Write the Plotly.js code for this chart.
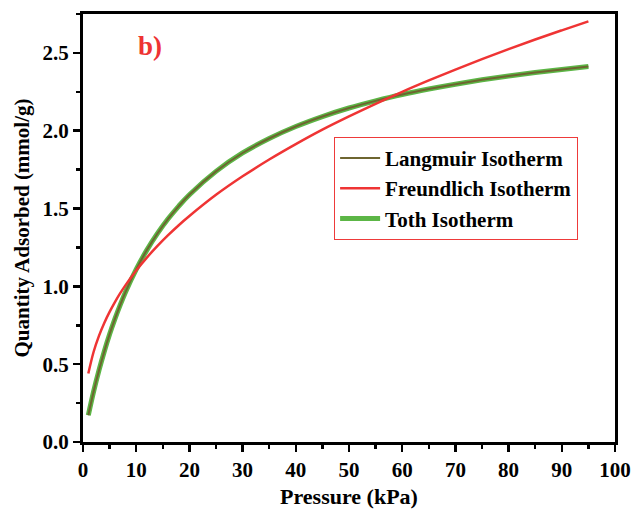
<!DOCTYPE html>
<html>
<head>
<meta charset="utf-8">
<script src="https://cdn.plot.ly/plotly-3.0.1.min.js"></script>
<style>html,body{margin:0;padding:0;background:#fff;}#chart{width:634px;height:510px;}</style>
</head>
<body>
<div id="chart"></div>
<script>
const pressure = [1,2,3,4,5,6,7,8,10,12,14,16,18,20,25,30,35,40,45,50,55,60,65,70,75,80,85,90,95];
const langmuir = [0.172,0.325,0.460,0.582,0.692,0.791,0.881,0.964,1.109,1.233,1.340,1.434,1.516,1.589,1.739,1.857,1.950,2.027,2.091,2.146,2.192,2.233,2.268,2.299,2.327,2.352,2.374,2.394,2.413];
const freundlich = [0.440,0.580,0.682,0.765,0.836,0.899,0.956,1.008,1.102,1.185,1.260,1.329,1.393,1.452,1.588,1.707,1.815,1.914,2.007,2.092,2.173,2.250,2.323,2.393,2.460,2.524,2.586,2.645,2.703];
const toth = [0.172,0.325,0.460,0.582,0.692,0.791,0.881,0.964,1.109,1.233,1.340,1.434,1.516,1.589,1.739,1.857,1.950,2.027,2.091,2.146,2.192,2.233,2.268,2.299,2.327,2.352,2.374,2.394,2.413];
const seriesNames = ["Langmuir Isotherm","Freundlich Isotherm","Toth Isotherm"];
const xTicks = [0,10,20,30,40,50,60,70,80,90,100];
const yTicks = [0.0,0.5,1.0,1.5,2.0,2.5];
const yTickText = ["0.0","0.5","1.0","1.5","2.0","2.5"];

const font = "Liberation Serif, Times New Roman, serif";
const traces = [
  {x: pressure, y: toth, name: seriesNames[2], mode: "lines", legendrank: 3,
   line: {color: "#5cb646", width: 5, shape: "spline"}},
  {x: pressure, y: langmuir, name: seriesNames[0], mode: "lines", legendrank: 1,
   line: {color: "#6e6530", width: 2, shape: "spline"}},
  {x: pressure, y: freundlich, name: seriesNames[1], mode: "lines", legendrank: 2,
   line: {color: "#ef3434", width: 2.5, shape: "spline"}}
];
const axisCommon = {
  showgrid: false, zeroline: false, showline: true, linecolor: "#000", linewidth: 3,
  mirror: true, ticks: "outside", ticklen: 7, tickwidth: 2.5, tickcolor: "#000",
  tickfont: {family: font, size: 21, color: "#000", weight: "bold"}
};
const layout = {
  width: 634, height: 510,
  margin: {l: 83, r: 19, t: 14, b: 68},
  paper_bgcolor: "#fff", plot_bgcolor: "#fff",
  font: {family: font, color: "#000"},
  xaxis: Object.assign({}, axisCommon, {
    range: [0, 100], tickvals: xTicks,
    minor: {dtick: 5, ticks: "outside", ticklen: 4, tickwidth: 2.5, tickcolor: "#000", showgrid: false},
    title: {text: "Pressure (kPa)", font: {family: font, size: 22, weight: "bold"}, standoff: 8}
  }),
  yaxis: Object.assign({}, axisCommon, {
    range: [0, 2.75], tickvals: yTicks, ticktext: yTickText,
    minor: {dtick: 0.25, tick0: 0, ticks: "outside", ticklen: 4, tickwidth: 2.5, tickcolor: "#000", showgrid: false},
    title: {text: "Quantity Adsorbed (mmol/g)", font: {family: font, size: 21, weight: "bold"}, standoff: 8}
  }),
  showlegend: true,
  legend: {
    x: 0.472, y: 0.713, xanchor: "left", yanchor: "top",
    bgcolor: "rgba(255,255,255,0)", bordercolor: "#ee3a3a", borderwidth: 1,
    font: {family: font, size: 21, color: "#000", weight: "bold"},
    tracegroupgap: 0, itemwidth: 40
  },
  annotations: [{
    text: "b)", xref: "paper", yref: "paper", x: 0.125, y: 0.925,
    xanchor: "center", yanchor: "middle", showarrow: false,
    font: {family: font, size: 27, color: "#ee3333", weight: "bold"}
  }]
};
Plotly.newPlot("chart", traces, layout, {displayModeBar: false, staticPlot: true});
</script>
</body>
</html>
